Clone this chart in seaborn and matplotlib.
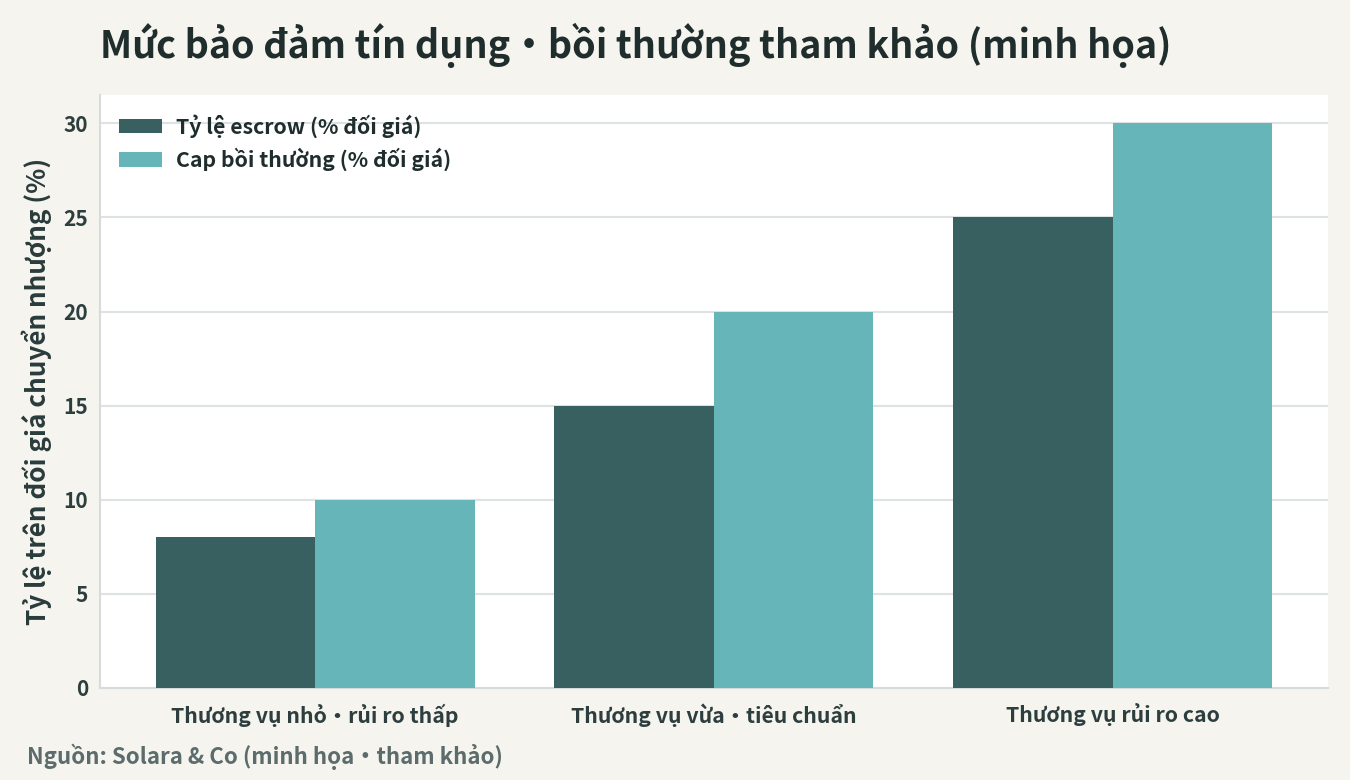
import pandas as pd
import matplotlib
matplotlib.use("Agg")
import matplotlib.pyplot as plt
import seaborn as sns

# dữ liệu
categories = ["Thương vụ nhỏ·rủi ro thấp", "Thương vụ vừa·tiêu chuẩn", "Thương vụ rủi ro cao"]
escrow = [8, 15, 25]
cap_comp = [10, 20, 30]
series_names = ["Tỷ lệ escrow (% đối giá)", "Cap bồi thường (% đối giá)"]
colors = ["#386060", "#66b5b9"]

sns.set_theme(style="white")
plt.rcParams['font.family'] = ['Noto Sans CJK SC', 'DejaVu Sans']
plt.rcParams['axes.unicode_minus'] = False

df = pd.DataFrame({
    "cat": categories * 2,
    "series": [series_names[0]] * 3 + [series_names[1]] * 3,
    "value": escrow + cap_comp,
})

fig = plt.figure(figsize=(13.5, 7.8), dpi=100, facecolor="#f5f4ef")
ax = fig.add_axes([0.074, 0.118, 0.9097, 0.76])
ax.set_facecolor("white")

sns.barplot(data=df, x="cat", y="value", hue="series", palette=colors,
            width=0.8, saturation=1, linewidth=0, ax=ax, zorder=3)

ax.set_xlim(-0.54, 2.54)
ax.set_ylim(0, 31.5)
ax.set_yticks([0, 5, 10, 15, 20, 25, 30])
ax.yaxis.grid(True, color="#dde3e2", linewidth=1.5, zorder=0)
ax.set_axisbelow(True)

for s in ["top", "right"]:
    ax.spines[s].set_visible(False)
for s in ["left", "bottom"]:
    ax.spines[s].set_color("#d5dcdb")
    ax.spines[s].set_linewidth(1.5)

ax.tick_params(axis="both", length=5, width=1.2, color="#3a4a4a", labelcolor="#2d3e3e")
ax.tick_params(axis="x", labelsize=15.3, pad=6)
ax.tick_params(axis="y", labelsize=15)
for lab in ax.get_xticklabels() + ax.get_yticklabels():
    lab.set_fontweight("bold")

ax.set_xlabel("")
ax.set_ylabel("Tỷ lệ trên đối giá chuyển nhượng (%)", fontsize=18.8,
              fontweight="bold", color="#2a3b3b", labelpad=8)

leg = ax.legend(loc="upper left", frameon=False, fontsize=15.3,
                handlelength=2.0, handleheight=0.65, borderaxespad=0.5,
                labelspacing=0.45, handletextpad=0.7)
for t in leg.get_texts():
    t.set_fontweight("bold")
    t.set_color("#1f2d2d")

fig.text(0.074, 0.942, "Mức bảo đảm tín dụng·bồi thường tham khảo (minh họa)",
         fontsize=27.2, fontweight="bold", color="#1f2d2d", ha="left", va="center")
fig.text(0.02, 0.03, "Nguồn: Solara & Co (minh họa·tham khảo)",
         fontsize=16, fontweight="bold", color="#5c6b6b", ha="left", va="center")

fig.savefig("out.png", dpi=100, facecolor=fig.get_facecolor())
